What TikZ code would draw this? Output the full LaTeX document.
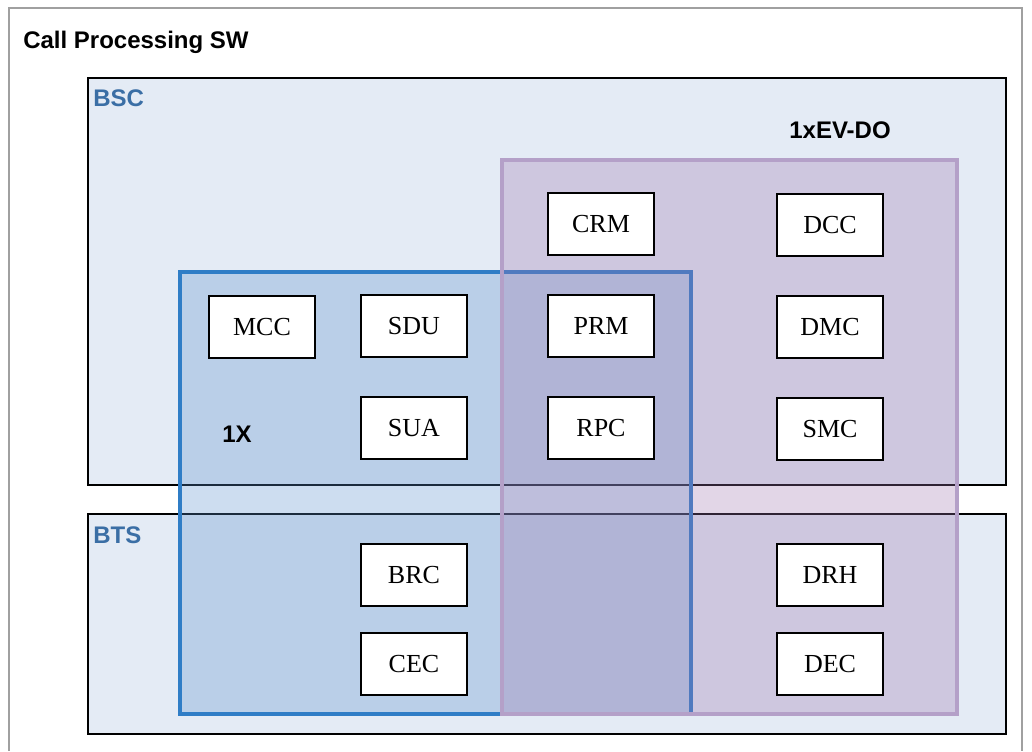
\documentclass[tikz,border=0pt]{standalone}
\usepackage{fontspec}
\setmainfont{Liberation Serif}
\newfontfamily\labelfont{Liberation Sans}
\usetikzlibrary{positioning}
\definecolor{bscfill}{HTML}{E4EBF5}
\definecolor{labelblue}{HTML}{3A6EA5}
\definecolor{onexline}{HTML}{2F7DC6}
\definecolor{onexfill}{HTML}{5A8FCC}
\definecolor{evdoline}{HTML}{B4A0C8}
\definecolor{evdofill}{HTML}{9E76AF}
\definecolor{frame}{HTML}{A0A0A0}

\tikzset{
  unitbox/.style={draw=black, line width=1.5pt, fill=white, minimum width=80pt, minimum height=47pt, inner sep=0pt, font=\fontsize{19.5}{22}\selectfont},
  arealabel/.style={anchor=west, inner sep=0pt, text=labelblue, font=\labelfont\bfseries\fontsize{18}{20}\selectfont},
  grouplabel/.style={inner sep=0pt, font=\labelfont\bfseries\fontsize{18}{20}\selectfont}
}

\begin{document}
\begin{tikzpicture}[x=0.75pt,y=-0.75pt]
\useasboundingbox (0,0) rectangle (1032,751);
% Outer frame
\draw[frame, line width=1.5pt] (9,751) -- (9,8) -- (1022,8) -- (1022,751);
\node[anchor=west, inner sep=0pt, font=\labelfont\bfseries\fontsize{18}{20}\selectfont] (title) at (23,42) {Call Processing SW};
% BSC and BTS areas
\draw[fill=bscfill, line width=1.1pt] (88,78) rectangle (1006,485);
\draw[fill=bscfill, line width=1.1pt] (88,514) rectangle (1006,734);
\node[arealabel] (bsc) at (93,98) {BSC};
\node[arealabel] (bts) at (93,535) {BTS};
% 1X group
\draw[onexline, line width=2.4pt, fill=onexfill, fill opacity=0.3] (180,272) rectangle (691,714);
\node[grouplabel] (onex) at (237,434) {1X};
% 1xEV-DO group
\draw[evdoline, line width=2.4pt, fill=evdofill, fill opacity=0.3] (502,160) rectangle (957,714);
\node[grouplabel] (evdo) at (840,130) {1xEV-DO};
% Units
\node[unitbox] (mcc) at (262,327) {MCC};
\node[unitbox] (sdu) at (414,326) {SDU};
\node[unitbox] (sua) at (414,428) {SUA};
\node[unitbox] (crm) at (601,224) {CRM};
\node[unitbox] (dcc) at (830,225) {DCC};
\node[unitbox] (prm) at (601,326) {PRM};
\node[unitbox] (dmc) at (830,327) {DMC};
\node[unitbox] (rpc) at (601,428) {RPC};
\node[unitbox] (smc) at (830,429) {SMC};
\node[unitbox] (brc) at (414,575) {BRC};
\node[unitbox] (drh) at (830,575) {DRH};
\node[unitbox] (cec) at (414,664) {CEC};
\node[unitbox] (dec) at (830,664) {DEC};
\end{tikzpicture}
\end{document}
